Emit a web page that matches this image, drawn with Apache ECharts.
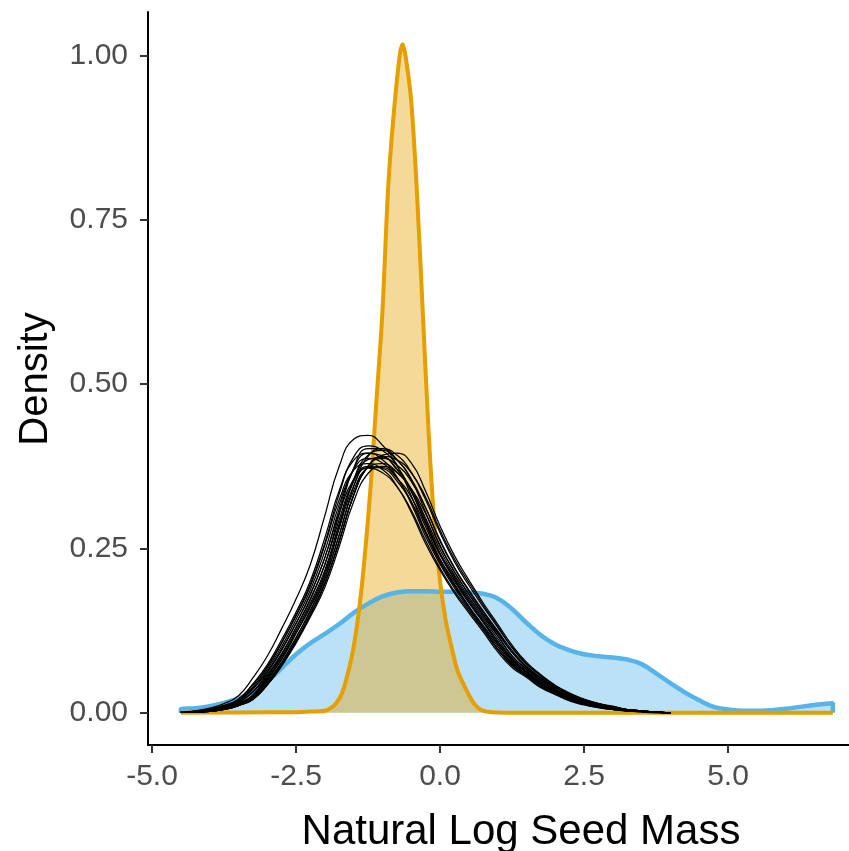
<!DOCTYPE html>
<html><head><meta charset="utf-8">
<script src="https://cdn.jsdelivr.net/npm/echarts@6/dist/echarts.min.js"></script>
<style>html,body{margin:0;padding:0;background:#fff}#c{width:849px;height:851px}</style>
</head><body><div id="c"></div>
<script>
// ---- data ----
const xTicks = [-5, -2.5, 0, 2.5, 5];
const yTicks = [0, 0.25, 0.5, 0.75, 1];

const blueX = [-4.5,-4.5,-4.25,-4.0,-3.75,-3.5,-3.25,-3.0,-2.75,-2.5,-2.25,-2.0,-1.75,-1.5,-1.25,-1.0,-0.75,-0.5,-0.25,0,0.25,0.5,0.75,1.0,1.25,1.5,1.75,2.0,2.25,2.5,2.75,3.0,3.25,3.5,3.75,4.0,4.25,4.5,4.75,5.0,5.25,5.5,5.75,6.0,6.25,6.5,6.75,6.82,6.82];
const blueY = [0,0.005,0.007,0.010,0.015,0.022,0.032,0.048,0.068,0.089,0.106,0.120,0.135,0.152,0.166,0.177,0.183,0.185,0.185,0.184,0.184,0.183,0.181,0.174,0.158,0.137,0.118,0.104,0.095,0.089,0.086,0.084,0.081,0.074,0.060,0.045,0.031,0.019,0.009,0.005,0.003,0.003,0.004,0.006,0.009,0.012,0.014,0.015,0];

const orangeX = [-4.5,-3.5,-2.5,-2.2,-2.0,-1.9,-1.8,-1.7,-1.6,-1.5,-1.4,-1.3,-1.2,-1.1,-1.0,-0.9,-0.8,-0.7,-0.65,-0.6,-0.5,-0.4,-0.3,-0.2,-0.1,0.0,0.1,0.2,0.3,0.4,0.5,0.6,0.7,0.8,1.0,2.0,6.82];
const orangeY = [0,0.0005,0.001,0.002,0.003,0.007,0.015,0.030,0.060,0.100,0.160,0.245,0.350,0.480,0.610,0.800,0.915,1.000,1.017,1.000,0.930,0.790,0.610,0.430,0.290,0.200,0.140,0.100,0.065,0.045,0.027,0.013,0.005,0.002,0.0005,0,0];

const blackX = [-4.5,-4.25,-4.0,-3.75,-3.5,-3.25,-3.0,-2.75,-2.5,-2.25,-2.0,-1.75,-1.5,-1.25,-1.0,-0.75,-0.5,-0.25,0.0,0.25,0.5,0.75,1.0,1.25,1.5,1.75,2.0,2.25,2.5,2.75,3.0,3.25,3.5,3.75,4.0];
const black01 = [0.001,0.001,0.003,0.007,0.014,0.026,0.054,0.085,0.125,0.167,0.217,0.288,0.352,0.385,0.388,0.370,0.340,0.293,0.243,0.207,0.173,0.143,0.113,0.083,0.064,0.048,0.034,0.024,0.016,0.011,0.007,0.004,0.002,0.001,0.000];
const black02 = [0.001,0.001,0.003,0.007,0.015,0.027,0.056,0.088,0.130,0.174,0.226,0.302,0.372,0.402,0.402,0.385,0.354,0.305,0.253,0.215,0.180,0.149,0.118,0.086,0.067,0.050,0.035,0.025,0.017,0.011,0.007,0.004,0.002,0.001,0.000];
const black03 = [0.001,0.001,0.003,0.007,0.014,0.025,0.052,0.082,0.121,0.161,0.209,0.280,0.345,0.373,0.373,0.357,0.328,0.283,0.234,0.200,0.167,0.138,0.109,0.080,0.062,0.046,0.033,0.023,0.015,0.011,0.007,0.004,0.002,0.001,0.000];
const black04 = [0.001,0.002,0.005,0.010,0.019,0.037,0.066,0.101,0.142,0.187,0.246,0.317,0.370,0.387,0.380,0.358,0.321,0.273,0.229,0.193,0.161,0.131,0.101,0.075,0.058,0.042,0.030,0.021,0.014,0.009,0.006,0.003,0.002,0.001,0.000];
const black05 = [0.001,0.002,0.005,0.011,0.020,0.039,0.069,0.106,0.149,0.196,0.258,0.333,0.389,0.406,0.399,0.376,0.337,0.287,0.240,0.203,0.169,0.138,0.106,0.079,0.061,0.044,0.032,0.022,0.015,0.009,0.006,0.003,0.002,0.001,0.000];
const black06 = [0.001,0.001,0.002,0.005,0.011,0.021,0.043,0.073,0.109,0.150,0.197,0.261,0.331,0.375,0.387,0.377,0.352,0.312,0.263,0.221,0.187,0.155,0.125,0.095,0.071,0.054,0.039,0.028,0.019,0.013,0.009,0.005,0.003,0.001,0.000];
const black07 = [0.001,0.001,0.002,0.005,0.011,0.020,0.042,0.071,0.106,0.146,0.191,0.253,0.321,0.364,0.375,0.366,0.341,0.303,0.255,0.214,0.181,0.150,0.121,0.092,0.069,0.052,0.038,0.027,0.018,0.013,0.009,0.005,0.003,0.001,0.000];
const black08 = [0.001,0.001,0.002,0.005,0.011,0.022,0.045,0.076,0.113,0.156,0.205,0.271,0.344,0.390,0.402,0.392,0.366,0.324,0.274,0.230,0.194,0.161,0.130,0.099,0.074,0.056,0.041,0.029,0.020,0.014,0.009,0.005,0.003,0.001,0.000];
const black09 = [0.001,0.002,0.004,0.009,0.017,0.032,0.061,0.095,0.136,0.181,0.236,0.310,0.371,0.395,0.391,0.371,0.337,0.289,0.241,0.204,0.170,0.140,0.109,0.081,0.062,0.046,0.033,0.023,0.015,0.010,0.007,0.004,0.002,0.001,0.000];
const black10 = [0.001,0.001,0.002,0.006,0.012,0.023,0.048,0.077,0.115,0.155,0.203,0.270,0.338,0.373,0.379,0.366,0.339,0.296,0.248,0.210,0.176,0.146,0.117,0.087,0.066,0.050,0.036,0.025,0.017,0.012,0.008,0.004,0.002,0.001,0.000];
const black11 = [0.001,0.003,0.007,0.014,0.026,0.053,0.086,0.128,0.173,0.226,0.300,0.375,0.416,0.422,0.407,0.377,0.330,0.276,0.233,0.196,0.162,0.130,0.097,0.074,0.056,0.040,0.028,0.019,0.013,0.009,0.005,0.003,0.001,0.000,0.000];
const black12 = [0.001,0.002,0.006,0.011,0.021,0.044,0.073,0.111,0.153,0.201,0.266,0.338,0.384,0.395,0.385,0.359,0.318,0.268,0.226,0.190,0.158,0.128,0.097,0.072,0.056,0.040,0.029,0.019,0.013,0.008,0.005,0.003,0.002,0.001,0.000];
const black13 = [0.001,0.001,0.002,0.005,0.011,0.021,0.043,0.073,0.109,0.150,0.197,0.261,0.331,0.375,0.390,0.385,0.365,0.328,0.278,0.234,0.198,0.164,0.132,0.100,0.075,0.057,0.041,0.029,0.020,0.014,0.009,0.005,0.003,0.001,0.000];
const black14 = [0.001,0.001,0.004,0.008,0.016,0.031,0.058,0.090,0.129,0.172,0.225,0.294,0.353,0.375,0.372,0.353,0.321,0.275,0.229,0.194,0.162,0.133,0.104,0.077,0.059,0.044,0.031,0.022,0.015,0.010,0.006,0.003,0.002,0.001,0.000];
const black15 = [0.001,0.001,0.003,0.006,0.013,0.024,0.050,0.081,0.121,0.163,0.213,0.284,0.355,0.392,0.399,0.385,0.356,0.312,0.261,0.220,0.185,0.153,0.123,0.092,0.070,0.053,0.038,0.027,0.018,0.012,0.008,0.005,0.003,0.001,0.000];
const black16 = [0.001,0.002,0.006,0.011,0.020,0.042,0.070,0.107,0.147,0.193,0.255,0.324,0.369,0.379,0.370,0.345,0.305,0.257,0.217,0.182,0.152,0.123,0.093,0.069,0.054,0.038,0.028,0.018,0.012,0.008,0.005,0.003,0.002,0.001,0.000];
const black17 = [0.001,0.001,0.002,0.005,0.011,0.021,0.043,0.073,0.109,0.150,0.197,0.261,0.331,0.375,0.392,0.395,0.380,0.337,0.284,0.239,0.202,0.167,0.135,0.103,0.077,0.058,0.042,0.030,0.021,0.014,0.010,0.005,0.003,0.001,0.000];
const black18 = [0.001,0.002,0.005,0.010,0.018,0.036,0.063,0.097,0.136,0.180,0.236,0.304,0.355,0.372,0.365,0.344,0.308,0.262,0.220,0.185,0.155,0.126,0.097,0.072,0.056,0.040,0.029,0.020,0.013,0.009,0.006,0.003,0.002,0.001,0.000];

const xTitle = 'Natural Log Seed Mass';
const yTitle = 'Density';

// ---- chart ----
const FONT = 'Liberation Sans, Arial, sans-serif';
function pairs(xs, ys) { return xs.map((x, i) => [x, ys[i]]); }
const blackCurves = [black01, black02, black03, black04, black05, black06, black07, black08, black09,
  black10, black11, black12, black13, black14, black15, black16, black17, black18];

const series = [
  { type: 'line', data: pairs(blueX, blueY), smooth: 0.4, showSymbol: false, silent: true,
    lineStyle: { color: '#56B4E9', width: 4.5 }, areaStyle: { color: 'rgba(86,180,233,0.4)', opacity: 1 } },
  { type: 'line', data: pairs(orangeX, orangeY), smooth: 0.3, showSymbol: false, silent: true,
    lineStyle: { color: '#E69F00', width: 4 }, areaStyle: { color: 'rgba(230,159,0,0.4)', opacity: 1 } }
];
blackCurves.forEach(c => series.push({
  type: 'line', data: pairs(blackX, c), smooth: 0.5, showSymbol: false, silent: true,
  lineStyle: { color: '#000', width: 1.25 }
}));

const chart = echarts.init(document.getElementById('c'));
chart.setOption({
  animation: false,
  backgroundColor: '#fff',
  grid: { left: 148, right: 0, top: 12, bottom: 106 },
  xAxis: {
    type: 'value', min: -5.07, max: 7.1,
    splitLine: { show: false },
    axisLine: { onZero: false, lineStyle: { color: '#000', width: 2 } },
    axisTick: { customValues: xTicks, length: 8, lineStyle: { color: '#333', width: 2 } },
    axisLabel: { customValues: xTicks, formatter: v => v.toFixed(1), fontSize: 30, color: '#4D4D4D', fontFamily: FONT, margin: 17 }
  },
  yAxis: {
    type: 'value', min: -0.049, max: 1.066,
    splitLine: { show: false },
    axisLine: { show: true, onZero: false, lineStyle: { color: '#000', width: 2 } },
    axisTick: { show: true, customValues: yTicks, length: 8, lineStyle: { color: '#333', width: 2 } },
    axisLabel: { customValues: yTicks, formatter: v => v.toFixed(2), fontSize: 30, color: '#4D4D4D', fontFamily: FONT, margin: 20 }
  },
  graphic: [
    { type: 'text', x: 521, y: 832, style: { text: xTitle, font: '42px ' + FONT, fill: '#000', textAlign: 'center', textVerticalAlign: 'middle' } },
    { type: 'text', x: 36, y: 379, rotation: Math.PI / 2, style: { text: yTitle, font: '40px ' + FONT, fill: '#000', textAlign: 'center', textVerticalAlign: 'middle' } }
  ],
  series: series
});
</script>
</body></html>
